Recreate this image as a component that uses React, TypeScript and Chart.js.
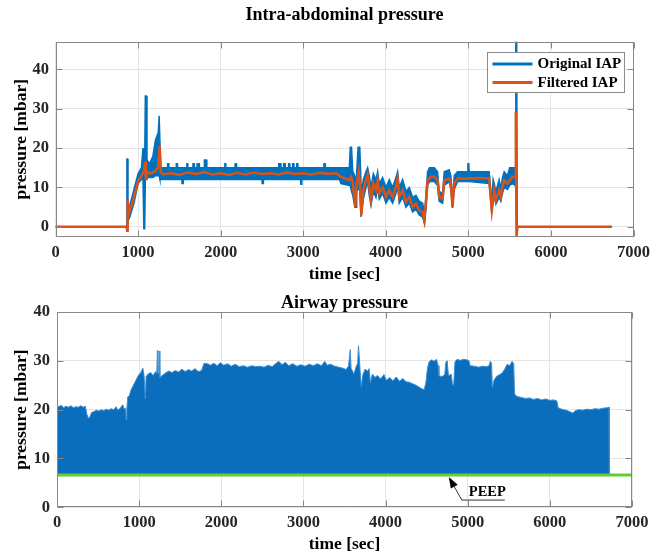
import React, { useEffect, useRef } from 'react';
import { Chart, registerables } from 'chart.js';

Chart.register(...registerables);

// ---------- tick labels ----------
const timeTicks = [0, 1000, 2000, 3000, 4000, 5000, 6000, 7000];
const iapTicks = [0, 10, 20, 30, 40];
const awTicks = [0, 10, 20, 30, 40];

// ---------- Intra-abdominal pressure: original IAP (band of fast oscillation: high / low edge) ----------
const iapTime = [
  0, 862, 865, 872, 878, 900, 950, 1000, 1040, 1060, 1070, 1080, 1088, 1100, 1108, 1140, 1180, 1210, 1245, 1255, 1265, 1275,
  1355, 1358, 1372, 1375, 1460, 1463, 1475, 1478, 1530, 1533, 1545, 1548, 1588, 1591, 1600, 1603,
  1663, 1666, 1680, 1683, 1713, 1716, 1740, 1743, 1800, 1803, 1830, 1833, 2048, 2051, 2060, 2063,
  2173, 2176, 2190, 2193, 2500, 2503, 2515, 2518, 2700, 2703, 2730, 2733, 2760, 2763, 2780, 2783,
  2820, 2823, 2835, 2838, 2868, 2871, 2885, 2888, 2918, 2921, 2935, 2938, 2968, 2971, 2980, 2983,
  3248, 3251, 3265, 3268,
  3438, 3458, 3559, 3570, 3585, 3600, 3625, 3640, 3648, 3665, 3685, 3700, 3710, 3728, 3760, 3780, 3800, 3821, 3849, 3881,
  3901, 3921, 3962, 4002, 4042, 4083, 4123, 4143, 4163, 4204, 4244, 4284, 4325, 4365, 4405, 4446, 4470, 4486, 4506, 4530,
  4587, 4627, 4647, 4688, 4708, 4768, 4788, 4808, 4829, 4869, 4990, 4995, 5005, 5010, 5252, 5284, 5300, 5313, 5333, 5373,
  5393, 5413, 5434, 5474, 5500, 5534, 5567, 5575, 5585, 5592, 6740,
];
const iapOrigHigh = [
  0, 0, 17.2, 17.2, 4, 5.5, 9.5, 13.5, 15, 20, 16, 16, 33.2, 33.2, 17, 16, 18, 22, 24, 28.2, 28.2, 15,
  15, 16, 16, 15, 15, 16, 16, 15, 15, 15, 15, 15, 15, 16, 16, 15,
  15, 16, 16, 15, 15, 16, 16, 15, 15, 17, 17, 15, 15, 16, 16, 15,
  15, 16, 16, 15, 15, 15, 15, 15, 15, 16, 16, 15, 15, 16, 16, 15,
  15, 16, 16, 15, 15, 16, 16, 15, 15, 16, 16, 15, 15, 15, 15, 15,
  15, 16, 16, 15,
  15, 15, 15, 20.2, 20.2, 14, 13, 12, 14, 20.2, 20.2, 11, 9, 12, 14, 15, 13, 10, 13.5, 12,
  14, 11, 12.5, 10, 12, 10, 12.5, 14, 10, 12, 9, 10, 7.5, 8, 6.5, 6, 3.5, 8, 14, 15,
  15, 14, 9, 8.5, 14, 14.5, 13, 6.5, 13, 14, 14, 16, 16, 14, 14, 6, 12, 11, 9, 12,
  9.5, 12.5, 14, 13, 15, 15, 15, 50, 50, 0, 0,
];
const iapOrigLow = [
  0, 0, -0.8, 2, 1.5, 2.5, 6, 11, 12, 12, -0.5, -0.5, 12, 12, 12.5, 12.5, 12.5, 13, 13, 13, 12, 12,
  12, 12, 12, 12, 12, 12, 12, 12, 12, 11, 11, 12, 12, 12, 12, 12,
  12, 12, 12, 12, 12, 12, 12, 12, 12, 12, 12, 12, 12, 12, 12, 12,
  12, 12, 12, 12, 12, 11, 11, 12, 12, 12, 12, 12, 12, 12, 12, 12,
  12, 12, 12, 12, 12, 12, 12, 12, 12, 12, 12, 12, 12, 10.8, 10.8, 12,
  12, 12, 12, 12,
  12, 11, 10.5, 10.5, 9, 8, 5, 5, 9, 10, 9, 2.5, 2.5, 7, 10, 11.5, 8, 5.5, 9, 7.5,
  10, 7, 8.5, 6, 7.5, 6, 8.5, 10.5, 6, 7.5, 5, 6, 3.8, 4.5, 3, 2.5, 0.7, 4.5, 10.5, 11.5,
  11.5, 10.5, 6.5, 6, 10.5, 11.5, 9.5, 4.8, 9.5, 11.5, 11.5, 11.5, 11.5, 11.5, 11, 3.5, 7, 7.5, 5.8, 7.5,
  6.5, 8.5, 10, 9.5, 10.5, 11, 10.5, 10, 0, 0, 0,
];

// ---------- Intra-abdominal pressure: filtered IAP ----------
const filtTime = [
  0, 862, 868, 874, 885, 900, 950, 1000, 1040, 1070, 1085, 1095, 1110, 1150, 1200, 1240, 1262, 1275, 1300,
  1400, 1500, 1600, 1700, 1800, 1900, 2000, 2100, 2200, 2300, 2400, 2500, 2600, 2700, 2800, 2900, 3000, 3100, 3200, 3300, 3400,
  3458, 3520, 3559, 3579, 3599, 3631, 3648, 3672, 3688, 3704, 3728, 3760, 3780, 3800, 3821, 3849, 3881, 3901, 3921, 3962,
  4002, 4042, 4083, 4123, 4143, 4163, 4204, 4244, 4284, 4325, 4365, 4405, 4446, 4466, 4486, 4506, 4546, 4587, 4627, 4647,
  4688, 4708, 4768, 4788, 4808, 4829, 4869, 5000, 5100, 5252, 5284, 5313, 5333, 5373, 5393, 5413, 5434, 5474, 5534, 5567,
  5575, 5583, 5595, 6740,
];
const filtIap = [
  0, 0, -1, 7, 3, 4, 7.5, 11.5, 13, 14, 16.5, 12, 14, 13.5, 14, 15, 20.5, 14, 13.3,
  13.6, 13.2, 13.8, 13.4, 13.9, 13.3, 13.6, 13.2, 13.7, 13.3, 13.8, 13.4, 13.6, 13.3, 13.8, 13.4, 13.6, 13.3, 13.7, 13.5, 13.6,
  12.7, 12.2, 11.8, 12.7, 11.5, 5.0, 11, 14, 10.5, 3.0, 9.3, 11.8, 13.2, 10, 6.8, 11, 9.3, 11.8, 8.5, 10,
  7.6, 9.3, 7.6, 10.2, 12.2, 7.6, 9.3, 6.3, 7.6, 5.0, 5.9, 4.2, 3.8, 1.7, 5.9, 11.8, 12.7, 12.7, 11.8, 7.6,
  7.1, 11.8, 12.3, 11, 5.0, 11, 12.3, 12.3, 12.4, 12.3, 4.2, 9.3, 6.8, 9.3, 7.6, 10.2, 11.8, 11, 12.7, 12.7,
  29.2, -2.5, 0, 0,
];

// ---------- Airway pressure: peak envelope of the breaths ----------
const awTime = [
  0, 20, 50, 80, 110, 140, 170, 200, 230, 260,
  290, 320, 345, 365, 385, 400, 420, 450, 480, 510,
  540, 570, 600, 630, 660, 690, 720, 740, 770, 800,
  820, 835, 843, 850, 860, 880, 900, 930, 960, 990,
  1020, 1045, 1060, 1075, 1085, 1110, 1140, 1170, 1200, 1215,
  1222, 1228, 1240, 1246, 1252, 1280, 1320, 1360, 1400, 1440,
  1480, 1520, 1560, 1600, 1640, 1680, 1720, 1760, 1790, 1830,
  1870, 1910, 1950, 1990, 2030, 2080, 2120, 2170, 2220, 2270,
  2320, 2370, 2420, 2470, 2520, 2570, 2620, 2660, 2700, 2740,
  2780, 2820, 2870, 2920, 2970, 3020, 3070, 3120, 3170, 3220,
  3260, 3290, 3330, 3380, 3430, 3480, 3520, 3550, 3570, 3580,
  3595, 3615, 3635, 3660, 3670, 3680, 3690, 3705, 3720, 3750,
  3780, 3800, 3815, 3840, 3870, 3900, 3940, 3980, 4010, 4050,
  4090, 4130, 4170, 4210, 4250, 4290, 4330, 4370, 4410, 4440,
  4470, 4490, 4510, 4530, 4560, 4590, 4620, 4640, 4650, 4690,
  4720, 4735, 4750, 4765, 4800, 4815, 4830, 4845, 4870, 4910,
  4950, 4990, 5015, 5030, 5080, 5130, 5180, 5230, 5260, 5275,
  5290, 5300, 5320, 5350, 5390, 5420, 5450, 5480, 5510, 5540,
  5560, 5570, 5600, 5650, 5700, 5750, 5800, 5850, 5900, 5950,
  6000, 6050, 6085, 6100, 6130, 6160, 6200, 6240, 6280, 6310,
  6350, 6400, 6450, 6500, 6550, 6600, 6650, 6700, 6720, 6725,
];
const awPeak = [
  21.0, 20.6, 20.9, 20.4, 20.7, 20.5, 20.8, 20.4, 20.6, 20.5,
  20.8, 20.5, 20.7, 19.0, 18.2, 18.5, 19.4, 19.6, 19.9, 19.7,
  20.0, 19.8, 20.1, 19.9, 20.2, 20.0, 20.6, 19.9, 20.3, 21.0,
  20.1, 20.3, 18.0, 20.0, 22.6, 22.8, 24.0, 25.0, 26.0, 27.0,
  27.6, 28.5, 27.0, 22.2, 26.8, 27.3, 27.6, 27.0, 27.8, 27.4,
  32.1, 27.5, 27.6, 32.0, 26.6, 27.0, 27.5, 27.9, 27.6, 28.0,
  27.7, 28.3, 27.8, 28.2, 27.9, 28.4, 27.8, 28.0, 29.5, 29.4,
  29.1, 29.5, 29.0, 29.6, 29.1, 29.4, 28.9, 29.3, 28.8, 29.0,
  28.7, 29.0, 28.8, 28.9, 28.7, 29.1, 28.8, 29.4, 29.9, 29.2,
  29.7, 29.0, 29.4, 28.9, 29.2, 28.9, 29.3, 29.0, 29.4, 29.0,
  29.9, 29.1, 29.3, 28.9, 28.7, 28.5, 28.2, 29.0, 32.3, 28.5,
  28.0, 27.3, 28.5, 29.5, 33.1, 30.8, 28.0, 24.6, 27.0, 28.3,
  27.9, 28.4, 25.5, 27.3, 26.6, 27.0, 26.3, 27.2, 26.0, 26.6,
  25.9, 26.7, 25.8, 26.4, 25.7, 25.6, 25.3, 25.0, 24.6, 24.3,
  24.1, 25.5, 28.5, 29.8, 30.2, 29.9, 30.3, 29.0, 26.9, 26.8,
  27.2, 29.8, 30.0, 27.0, 27.2, 25.0, 25.2, 29.8, 30.3, 30.1,
  30.3, 30.2, 30.0, 29.0, 28.9, 28.7, 28.9, 28.8, 29.0, 29.9,
  29.5, 24.5, 26.0, 26.8, 27.2, 27.5, 28.3, 29.3, 29.0, 29.9,
  29.4, 23.2, 22.7, 22.5, 22.3, 22.4, 22.1, 22.3, 22.0, 22.2,
  21.9, 22.0, 21.8, 20.4, 20.2, 20.0, 19.9, 19.6, 19.3, 19.8,
  20.0, 19.9, 20.1, 20.0, 20.2, 20.1, 20.3, 20.4, 20.5, 6.8,
];
const awBase = 6.8;

// ---------- PEEP line ----------
const peepTime = [0, 7000];
const peepLevel = [6.6, 6.6];
const peepLabel = 'PEEP';
const peepArrowTime = 4770;

// ---------- styles ----------
const SERIF = "'Liberation Serif', 'Times New Roman', serif";
const BLUE = '#0072BD';
const ORANGE = '#D95319';
const GREEN = '#62d02f';
const AXIS = '#868686';
const GRID = '#e4e4e4';
const TICK_TEXT = '#262626';

const toXY = (xs: number[], ys: number[]) => xs.map((x, i) => ({ x, y: ys[i] }));

const framePlugin = {
  id: 'frameTicks',
  afterDraw(chart: any) {
    const { ctx, chartArea: a, scales } = chart;
    ctx.save();
    ctx.strokeStyle = AXIS;
    ctx.lineWidth = 1;
    const L = Math.round(a.left) + 0.5;
    const R = Math.round(a.right) - 0.5;
    const T = Math.round(a.top) + 0.5;
    const B = Math.round(a.bottom) - 0.5;
    ctx.strokeRect(L, T, R - L, B - T);
    ctx.beginPath();
    scales.x.ticks.forEach((t: any) => {
      const px = Math.round(scales.x.getPixelForValue(t.value)) + 0.5;
      ctx.moveTo(px, B); ctx.lineTo(px, B - 6);
      ctx.moveTo(px, T); ctx.lineTo(px, T + 6);
    });
    scales.y.ticks.forEach((t: any) => {
      const py = Math.round(scales.y.getPixelForValue(t.value)) + 0.5;
      ctx.moveTo(L, py); ctx.lineTo(L + 6, py);
      ctx.moveTo(R, py); ctx.lineTo(R - 6, py);
    });
    ctx.stroke();
    ctx.restore();
  },
};

const legendPlugin = {
  id: 'boxLegend',
  afterDraw(chart: any) {
    const { ctx, chartArea: a } = chart;
    const items = chart.data.datasets.filter((d: any) => d.legendOrder !== undefined)
      .sort((p: any, q: any) => p.legendOrder - q.legendOrder);
    const w = 137, h = 40;
    const x0 = Math.round(a.right - 10 - w) + 0.5;
    const y0 = Math.round(a.top + 10) + 0.5;
    ctx.save();
    ctx.fillStyle = '#ffffff';
    ctx.fillRect(x0, y0, w, h);
    ctx.strokeStyle = '#8c8c8c';
    ctx.lineWidth = 1;
    ctx.strokeRect(x0, y0, w, h);
    ctx.font = `bold 15px ${SERIF}`;
    ctx.textBaseline = 'middle';
    ctx.textAlign = 'left';
    items.forEach((d: any, i: number) => {
      const cy = y0 + 11.5 + i * 18.4;
      ctx.strokeStyle = d.borderColor;
      ctx.lineWidth = 3;
      ctx.beginPath();
      ctx.moveTo(x0 + 5, cy);
      ctx.lineTo(x0 + 45, cy);
      ctx.stroke();
      ctx.fillStyle = '#000';
      ctx.fillText(d.label, x0 + 50, cy + 0.5);
    });
    ctx.restore();
  },
};

const peepPlugin = {
  id: 'peepNote',
  afterDraw(chart: any) {
    const { ctx, scales } = chart;
    const tx = scales.x.getPixelForValue(peepArrowTime);
    const ty = scales.y.getPixelForValue(peepLevel[0]) + 2;
    const ex = tx + 13, ey = ty + 23;
    ctx.save();
    ctx.strokeStyle = '#333';
    ctx.lineWidth = 1;
    ctx.beginPath();
    ctx.moveTo(ex + 43, ey);
    ctx.lineTo(ex, ey);
    ctx.lineTo(tx + 4, ty + 7);
    ctx.stroke();
    const ang = Math.atan2(ty - ey, tx - ex);
    const len = 11, half = 4;
    const bx = tx - len * Math.cos(ang), by = ty - len * Math.sin(ang);
    ctx.fillStyle = '#000';
    ctx.beginPath();
    ctx.moveTo(tx, ty);
    ctx.lineTo(bx + half * Math.sin(ang), by - half * Math.cos(ang));
    ctx.lineTo(bx - half * Math.sin(ang), by + half * Math.cos(ang));
    ctx.closePath();
    ctx.fill();
    ctx.font = `bold 14.5px ${SERIF}`;
    ctx.textBaseline = 'alphabetic';
    ctx.textAlign = 'left';
    ctx.fillStyle = '#000';
    ctx.fillText(peepLabel, tx + 20, ty + 19);
    ctx.restore();
  },
};

const tickFont = { family: SERIF, size: 16.5, weight: 'bold' as const };
const titleFont = { family: SERIF, size: 18, weight: 'bold' as const, lineHeight: 1 };
const axisTitleFont = { family: SERIF, size: 17.5, weight: 'bold' as const, lineHeight: 1 };

function makeScales(opts: {
  yMin: number; yMax: number; yTicks: number[]; yWidth: number; xHeight: number;
  xTickPad: number; yTickPad: number; xTitlePad: number; yTitlePad: number;
}) {
  return {
    x: {
      type: 'linear' as const,
      min: 0,
      max: 7000,
      afterBuildTicks: (s: any) => { s.ticks = timeTicks.map((v) => ({ value: v })); },
      afterFit: (s: any) => { s.height = opts.xHeight; },
      grid: { color: GRID, drawTicks: false },
      border: { display: false },
      ticks: {
        font: tickFont, color: TICK_TEXT, padding: opts.xTickPad, maxRotation: 0, autoSkip: false,
        callback: (v: any) => String(v),
      },
      title: { display: true, text: 'time [sec]', font: axisTitleFont, color: '#000', padding: { top: 0, bottom: opts.xTitlePad } },
    },
    y: {
      type: 'linear' as const,
      min: opts.yMin,
      max: opts.yMax,
      afterBuildTicks: (s: any) => { s.ticks = opts.yTicks.map((v) => ({ value: v })); },
      afterFit: (s: any) => { s.width = opts.yWidth; },
      grid: { color: GRID, drawTicks: false },
      border: { display: false },
      ticks: { font: tickFont, color: TICK_TEXT, padding: opts.yTickPad, callback: (v: any) => String(v) },
      title: { display: true, text: 'pressure [mbar]', font: axisTitleFont, color: '#000', padding: { top: opts.yTitlePad, bottom: 0 } },
    },
  };
}

export default function App() {
  const topRef = useRef<HTMLCanvasElement>(null);
  const botRef = useRef<HTMLCanvasElement>(null);

  useEffect(() => {
    const top = new Chart(topRef.current as HTMLCanvasElement, {
      type: 'line',
      data: {
        datasets: [
          {
            label: 'Filtered IAP',
            data: toXY(filtTime, filtIap),
            borderColor: ORANGE,
            borderWidth: 2.5,
            pointRadius: 0,
            tension: 0,
            fill: false,
            order: 0,
            legendOrder: 1,
          } as any,
          {
            label: 'Original IAP (low)',
            data: toXY(iapTime, iapOrigLow),
            borderColor: BLUE,
            borderWidth: 1.5,
            pointRadius: 0,
            tension: 0,
            fill: false,
            order: 2,
          },
          {
            label: 'Original IAP',
            data: toXY(iapTime, iapOrigHigh),
            borderColor: BLUE,
            backgroundColor: BLUE,
            borderWidth: 1.5,
            pointRadius: 0,
            tension: 0,
            fill: 1,
            order: 1,
            legendOrder: 0,
          } as any,
        ],
      },
      options: {
        animation: false,
        responsive: false,
        devicePixelRatio: 1,
        events: [],
        layout: { padding: { left: 0, right: 29.5, top: 0, bottom: 0 } },
        plugins: {
          legend: { display: false },
          tooltip: { enabled: false },
          title: {
            display: true,
            fullSize: false,
            text: 'Intra-abdominal pressure',
            font: titleFont,
            color: '#000',
            padding: { top: 6.5, bottom: 17.2 },
          },
        },
        scales: makeScales({
          yMin: -2.5, yMax: 47, yTicks: iapTicks, yWidth: 55.5, xHeight: 300 - 236.7,
          xTickPad: 6.4, yTickPad: 6.5, xTitlePad: 16.8, yTitlePad: 12.6,
        }),
      },
      plugins: [framePlugin, legendPlugin],
    });

    const bot = new Chart(botRef.current as HTMLCanvasElement, {
      type: 'line',
      data: {
        datasets: [
          {
            label: 'PEEP',
            data: toXY(peepTime, peepLevel),
            borderColor: GREEN,
            borderWidth: 3,
            pointRadius: 0,
            tension: 0,
            fill: false,
            order: 0,
          },
          {
            label: 'Airway pressure',
            data: toXY(awTime, awPeak),
            borderColor: '#3f8fd2',
            backgroundColor: '#0a6ebd',
            borderWidth: 1,
            pointRadius: 0,
            tension: 0,
            fill: { value: awBase },
            order: 1,
          },
        ],
      },
      options: {
        animation: false,
        responsive: false,
        devicePixelRatio: 1,
        events: [],
        layout: { padding: { left: 0, right: 31, top: 0, bottom: 0 } },
        plugins: {
          legend: { display: false },
          tooltip: { enabled: false },
          title: {
            display: true,
            fullSize: false,
            text: 'Airway pressure',
            font: titleFont,
            color: '#000',
            padding: { top: 14.0, bottom: 0 },
          },
        },
        scales: makeScales({
          yMin: 0, yMax: 40, yTicks: awTicks, yWidth: 57, xHeight: 274 - 227.3,
          xTickPad: 5.8, yTickPad: 7, xTitlePad: 0.8, yTitlePad: 13.1,
        }),
      },
      plugins: [framePlugin, peepPlugin],
    });

    return () => {
      top.destroy();
      bot.destroy();
    };
  }, []);

  return (
    <div style={{ position: 'absolute', left: 0, top: 0, width: 663, height: 554, background: '#ffffff', overflow: 'hidden' }}>
      <canvas ref={topRef} width={663} height={300} style={{ position: 'absolute', left: 0, top: 0 }} />
      <canvas ref={botRef} width={663} height={274} style={{ position: 'absolute', left: 0, top: 280 }} />
    </div>
  );
}
